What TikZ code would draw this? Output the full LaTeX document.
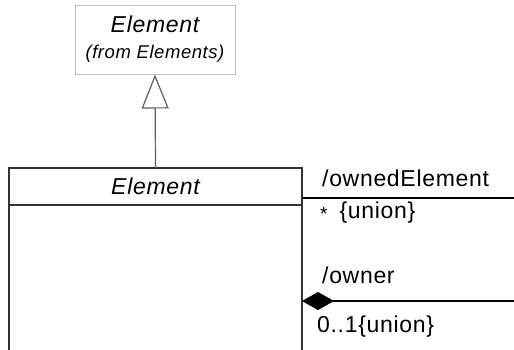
\documentclass[tikz,border=0pt]{standalone}
\usepackage{fontspec}
\setmainfont{Liberation Sans}[LetterSpace=3]
\usetikzlibrary{arrows.meta, positioning}
\definecolor{edgegray}{RGB}{192,192,192}
\definecolor{linegray}{RGB}{96,96,96}

\begin{document}
\begin{tikzpicture}[
    x=1pt, y=-1pt,
    imported/.style={rectangle, draw=edgegray, line width=1pt, fill=white, minimum width=160pt, minimum height=69pt, align=center, inner sep=0pt},
    classhead/.style={rectangle, draw=black!80, line width=1.3pt, outer sep=0pt, minimum width=293pt, minimum height=37pt, inner sep=0pt, font=\fontsize{23}{27}\selectfont\itshape},
    classbody/.style={rectangle, draw=black!80, line width=1.3pt, outer sep=0pt, minimum width=293pt, minimum height=160pt, inner sep=0pt, anchor=north},
    gen/.style={-{Triangle[open, length=34pt, width=27pt, fill=white]}, draw=linegray, line width=1.2pt},
    assoc/.style={draw=black, line width=1.2pt},
    role/.style={anchor=base west, inner sep=0pt, font=\fontsize{23}{27}\selectfont},
]
    \clip (0,0) rectangle (514,349);

    % Imported superclass
    \node[imported] (elemsup) at (155,39.5) {};
    \node[anchor=base, inner sep=0pt, font=\fontsize{23}{27}\selectfont\itshape] (supname) at (155,32) {Element};
    \node[anchor=base, inner sep=0pt, font=\fontsize{18.5}{22}\selectfont\itshape] (suppkg) at (155,58) {(from Elements)};

    % Class Element
    \node[classhead] (elem) at (155.5,186.5) {Element};
    \node[classbody] (elembody) at (elem.south) {};

    % Generalization
    \draw[gen] (elem.north) -- (elemsup.south);

    % Association ends
    \coordinate (ownedstart) at (elem.east |- 0,198);
    \coordinate (ownedend) at (514,198);
    \coordinate (ownerstart) at (elem.east |- 0,301);
    \coordinate (ownerend) at (514,301);

    \draw[assoc] (ownedstart) -- (ownedend);
    \draw[assoc, {Diamond[length=32pt, width=18pt]}-] (ownerstart) -- (ownerend);

    % Role labels
    \node[role] (ownedname) at (322,186) {/ownedElement};
    \node[role] (ownedmult) at (320,218) {\raisebox{-2pt}{\fontsize{19}{22}\selectfont *}\hspace{12pt}\{union\}};
    \node[role] (ownername) at (322,283) {/owner};
    \node[role] (ownermult) at (317,332) {0..1\{union\}};

\end{tikzpicture}
\end{document}
